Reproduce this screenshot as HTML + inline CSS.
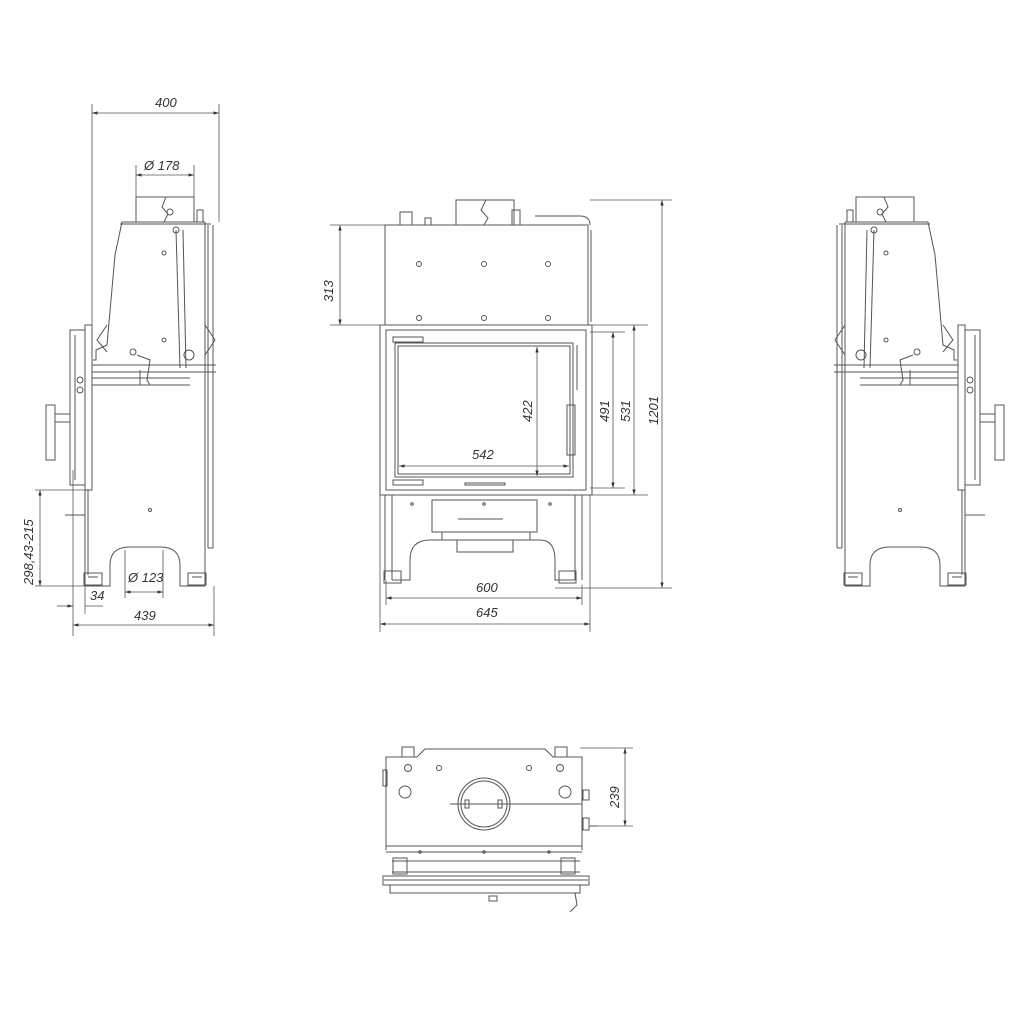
<!DOCTYPE html>
<html><head><meta charset="utf-8"><style>
html,body{margin:0;padding:0;background:#fff}
svg{display:block}
text{font-family:"Liberation Sans",sans-serif;font-style:italic;font-size:13px;fill:#333}
</style></head><body>
<svg width="1030" height="1029" viewBox="0 0 1030 1029" xmlns="http://www.w3.org/2000/svg">
<defs>
<marker id="a" viewBox="0 0 10 10" refX="10" refY="5" markerWidth="7" markerHeight="7" orient="auto-start-reverse"><path d="M0,2 L10,5 L0,8z" fill="#333"/></marker>
<g id="side" fill="none" stroke="#555" stroke-width="1">
  <!-- flue box -->
  <rect x="136" y="197" width="58" height="25"/>
  <path d="M166,197 L162,207 L168,214 L164,222"/>
  <circle cx="170" cy="212" r="3"/><circle cx="176" cy="230" r="3"/>
  <rect x="197" y="210" width="6" height="12"/>
  <!-- body -->
  <path d="M205,222 L122,222 L115,255 L107,345 L96,350 L96,360 L93,360"/>
  <line x1="120" y1="224" x2="211" y2="224"/>
  <line x1="205" y1="222" x2="205" y2="586"/>
  <line x1="208" y1="225" x2="208" y2="548"/>
  <line x1="213" y1="225" x2="213" y2="548"/>
  <line x1="208" y1="548" x2="213" y2="548"/>
  <path d="M205,325 L215,340 L205,355"/>
  <path d="M107,325 L97,340 L107,352"/>
  <!-- door plate -->
  <rect x="85" y="325" width="7" height="165"/>
  <rect x="70" y="330" width="15" height="155"/>
  <line x1="75" y1="335" x2="75" y2="480"/>
  <rect x="46" y="405" width="9" height="55"/>
  <rect x="55" y="414" width="15" height="8"/>
  <circle cx="80" cy="380" r="3"/><circle cx="80" cy="390" r="3"/>
  <!-- lower body -->
  <line x1="85" y1="490" x2="85" y2="586"/>
  <line x1="88" y1="490" x2="88" y2="575"/>
  <line x1="65" y1="515" x2="85" y2="515"/>
  <!-- mechanisms -->
  <line x1="176" y1="230" x2="180" y2="368"/>
  <line x1="183" y1="230" x2="186" y2="368"/>
  <line x1="92" y1="365" x2="216" y2="365"/>
  <line x1="92" y1="372" x2="216" y2="372"/>
  <line x1="92" y1="378" x2="190" y2="378"/>
  <line x1="92" y1="385" x2="190" y2="385"/>
  <circle cx="189" cy="355" r="5"/>
  <circle cx="133" cy="352" r="3"/>
  <path d="M137,355 L150,360 L147,380 L150,385 L140,385 L140,370"/>
  <circle cx="164" cy="253" r="2"/><circle cx="164" cy="340" r="2"/>
  <circle cx="150" cy="510" r="1.5"/>
  <!-- feet & arch -->
  <path d="M85,586 L110,586 L110,565 Q110,547 130,547 L160,547 Q180,547 180,565 L180,586 L205,586"/>
  <rect x="84" y="573" width="18" height="12"/><rect x="188" y="573" width="18" height="12"/>
  <line x1="88" y1="577" x2="98" y2="577"/><line x1="192" y1="577" x2="202" y2="577"/>
</g>
</defs>

<!-- LEFT VIEW -->
<use href="#side"/>
<g stroke="#555" stroke-width="0.8" fill="none">
  <line x1="92" y1="104" x2="92" y2="325"/>
  <line x1="219" y1="104" x2="219" y2="222"/>
  <line x1="92" y1="113" x2="219" y2="113" marker-start="url(#a)" marker-end="url(#a)"/>
  <line x1="136" y1="165" x2="136" y2="197"/>
  <line x1="194" y1="165" x2="194" y2="197"/>
  <line x1="136" y1="175" x2="194" y2="175" marker-start="url(#a)" marker-end="url(#a)"/>
  <line x1="125" y1="550" x2="125" y2="598"/>
  <line x1="163" y1="550" x2="163" y2="598"/>
  <line x1="125" y1="592" x2="163" y2="592" marker-start="url(#a)" marker-end="url(#a)"/>
  <line x1="35" y1="490" x2="85" y2="490"/>
  <line x1="35" y1="586" x2="85" y2="586"/>
  <line x1="40" y1="490" x2="40" y2="586" marker-start="url(#a)" marker-end="url(#a)"/>
  <line x1="57" y1="606" x2="73" y2="606" marker-end="url(#a)"/>
  <line x1="85" y1="606" x2="103" y2="606"/>
  <line x1="85" y1="586" x2="85" y2="614"/>
  <line x1="73" y1="470" x2="73" y2="636"/>
  <line x1="214" y1="586" x2="214" y2="636"/>
  <line x1="73" y1="625" x2="214" y2="625" marker-start="url(#a)" marker-end="url(#a)"/>
</g>
<text x="155" y="107">400</text>
<text x="144" y="170">Ø 178</text>
<text x="128" y="582">Ø 123</text>
<text x="90" y="600">34</text>
<text x="134" y="620">439</text>
<text transform="translate(33,585) rotate(-90)">298,43-215</text>

<!-- RIGHT VIEW (mirror) -->
<use href="#side" transform="translate(1050,0) scale(-1,1)"/>

<!-- CENTER VIEW -->
<g fill="none" stroke="#555" stroke-width="1">
  <rect x="456" y="200" width="58" height="25"/>
  <path d="M486,200 L481,210 L488,218 L484,225"/>
  <rect x="400" y="212" width="12" height="13"/><rect x="425" y="218" width="6" height="7"/>
  <rect x="512" y="210" width="8" height="15"/>
  <path d="M535,216 L580,216 Q590,216 590,225"/>
  <rect x="385" y="225" width="203" height="100"/>
  <line x1="591" y1="230" x2="591" y2="322"/>
  <circle cx="419" cy="264" r="2.5"/><circle cx="484" cy="264" r="2.5"/><circle cx="548" cy="264" r="2.5"/>
  <circle cx="419" cy="318" r="2.5"/><circle cx="484" cy="318" r="2.5"/><circle cx="548" cy="318" r="2.5"/>
  <rect x="380" y="325" width="212" height="170"/>
  <rect x="386" y="330" width="200" height="160"/>
  <rect x="395" y="343" width="178" height="134"/>
  <rect x="398" y="346" width="172" height="128"/>
  <rect x="393" y="337" width="30" height="5"/><rect x="393" y="480" width="30" height="5"/>
  <rect x="567" y="405" width="8" height="50"/>
  <line x1="577" y1="345" x2="577" y2="390"/>
  <rect x="465" y="483" width="40" height="2"/>
  <line x1="385" y1="495" x2="385" y2="580"/><line x1="392" y1="495" x2="392" y2="580"/>
  <line x1="575" y1="495" x2="575" y2="580"/><line x1="582" y1="495" x2="582" y2="580"/>
  <rect x="432" y="500" width="105" height="32"/>
  <line x1="458" y1="519" x2="503" y2="519"/>
  <rect x="442" y="532" width="88" height="8"/>
  <rect x="457" y="540" width="56" height="12"/>
  <path d="M392,580 L410,580 L410,560 Q410,540 430,540 L540,540 Q555,540 555,560 L555,580 L575,580"/>
  <rect x="384" y="571" width="17" height="12"/><rect x="559" y="571" width="17" height="12"/>
  <circle cx="412" cy="504" r="1.3"/><circle cx="484" cy="504" r="1.3"/><circle cx="550" cy="504" r="1.3"/>
</g>
<g stroke="#555" stroke-width="0.8" fill="none">
  <line x1="330" y1="225" x2="385" y2="225"/>
  <line x1="330" y1="325" x2="380" y2="325"/>
  <line x1="340" y1="225" x2="340" y2="325" marker-start="url(#a)" marker-end="url(#a)"/>
  <line x1="537" y1="347" x2="537" y2="476" marker-start="url(#a)" marker-end="url(#a)"/>
  <line x1="399" y1="466" x2="569" y2="466" marker-start="url(#a)" marker-end="url(#a)"/>
  <line x1="590" y1="332" x2="625" y2="332"/><line x1="590" y1="488" x2="625" y2="488"/>
  <line x1="613" y1="332" x2="613" y2="488" marker-start="url(#a)" marker-end="url(#a)"/>
  <line x1="592" y1="325" x2="648" y2="325"/><line x1="592" y1="495" x2="648" y2="495"/>
  <line x1="634" y1="325" x2="634" y2="495" marker-start="url(#a)" marker-end="url(#a)"/>
  <line x1="590" y1="200" x2="672" y2="200"/><line x1="555" y1="588" x2="672" y2="588"/>
  <line x1="662" y1="200" x2="662" y2="588" marker-start="url(#a)" marker-end="url(#a)"/>
  <line x1="386" y1="580" x2="386" y2="605"/><line x1="582" y1="585" x2="582" y2="605"/>
  <line x1="386" y1="598" x2="582" y2="598" marker-start="url(#a)" marker-end="url(#a)"/>
  <line x1="380" y1="495" x2="380" y2="632"/><line x1="590" y1="495" x2="590" y2="632"/>
  <line x1="380" y1="624" x2="590" y2="624" marker-start="url(#a)" marker-end="url(#a)"/>
</g>
<text transform="translate(333,302) rotate(-90)">313</text>
<text transform="translate(532,422) rotate(-90)">422</text>
<text x="472" y="459">542</text>
<text transform="translate(609,422) rotate(-90)">491</text>
<text transform="translate(630,422) rotate(-90)">531</text>
<text transform="translate(658,425) rotate(-90)">1201</text>
<text x="476" y="592">600</text>
<text x="476" y="617">645</text>

<!-- BOTTOM VIEW -->
<g fill="none" stroke="#555" stroke-width="1">
  <path d="M386,850 L386,757 L417,757 L425,749 L545,749 L553,757 L582,757 L582,850"/>
  <rect x="402" y="747" width="12" height="10"/><rect x="555" y="747" width="12" height="10"/>
  <rect x="383" y="770" width="4" height="16"/>
  <circle cx="408" cy="768" r="3.5"/><circle cx="439" cy="768" r="2.5"/><circle cx="529" cy="768" r="2.5"/><circle cx="560" cy="768" r="3.5"/>
  <circle cx="405" cy="792" r="6"/><circle cx="565" cy="792" r="6"/>
  <circle cx="484" cy="804" r="26"/><circle cx="484" cy="804" r="23"/>
  <line x1="450" y1="804" x2="582" y2="804"/>
  <rect x="465" y="800" width="4" height="8"/><rect x="498" y="800" width="4" height="8"/>
  <rect x="583" y="790" width="6" height="10"/><rect x="583" y="818" width="6" height="12"/><line x1="589" y1="826" x2="598" y2="826"/>
  <line x1="386" y1="846" x2="582" y2="846"/><line x1="386" y1="852" x2="582" y2="852"/>
  <line x1="392" y1="861" x2="580" y2="861"/><line x1="392" y1="872" x2="580" y2="872"/>
  <rect x="393" y="858" width="14" height="16"/><rect x="561" y="858" width="14" height="16"/>
  <rect x="383" y="876" width="206" height="9"/>
  <line x1="384" y1="880" x2="588" y2="880"/>
  <rect x="390" y="885" width="190" height="8"/>
  <rect x="489" y="896" width="8" height="5"/>
  <path d="M575,893 L577,905 L570,912"/>
  <circle cx="420" cy="852" r="1.2"/><circle cx="484" cy="852" r="1.2"/><circle cx="549" cy="852" r="1.2"/>
</g>
<g stroke="#555" stroke-width="0.8" fill="none">
  <line x1="580" y1="748" x2="633" y2="748"/><line x1="590" y1="826" x2="633" y2="826"/>
  <line x1="625" y1="748" x2="625" y2="826" marker-start="url(#a)" marker-end="url(#a)"/>
</g>
<text transform="translate(619,808) rotate(-90)">239</text>
</svg>
</body></html>
